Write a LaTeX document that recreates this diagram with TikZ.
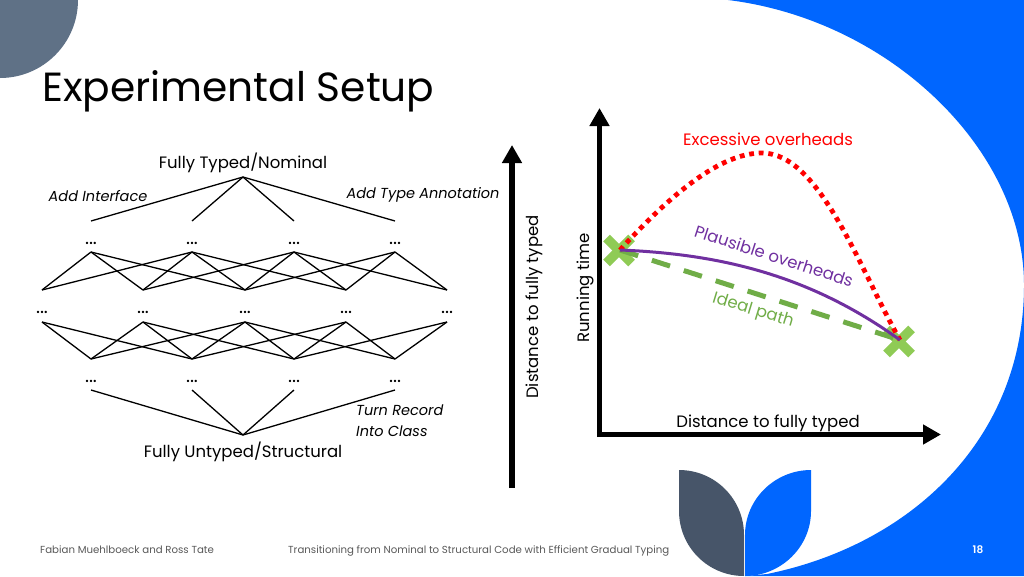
\documentclass[tikz,border=0pt]{standalone}
\usepackage{fontspec}
\setmainfont{Poppins}[BoldFont=* SemiBold]
\usetikzlibrary{arrows.meta}
\definecolor{brandblue}{HTML}{0066FF}
\definecolor{slate}{HTML}{5F7186}
\definecolor{darkleaf}{HTML}{475569}
\definecolor{xgreen}{HTML}{8FCB55}
\definecolor{idealgreen}{HTML}{70AD47}
\definecolor{purpleline}{HTML}{7030A0}
\definecolor{footgray}{HTML}{595959}
\newcommand{\fs}[1]{\fontsize{#1}{#1}\selectfont}
\tikzset{
  x=1pt,y=-1pt,
  lat/.style={draw=black,line width=1.3pt},
  dotsl/.style={inner sep=0pt,anchor=base,font=\fs{19}},
  lab/.style={inner sep=0pt,anchor=base,font=\fs{16.5}},
  anno/.style={inner sep=0pt,anchor=base,font=\fs{14.5}\itshape},
  foot/.style={inner sep=0pt,anchor=base west,font=\fs{10.2},text=footgray},
  axis/.style={draw=black,line width=5.5pt,-{Triangle[width=19pt,length=18pt]}},
  xmark/.style={draw=xgreen,line width=9.5pt},
}
\begin{document}
\begin{tikzpicture}
\useasboundingbox (0,0) rectangle (1024,576);
\fill[white] (0,0) rectangle (1024,576);
\begin{scope}
\clip (0,0) rectangle (1024,576);
\fill[brandblue] (728,0) .. controls (890,20) and (1024,150) .. (1024,285) .. controls (1024,440) and (910,545) .. (767,574) -- (745,576) -- (1024,576) -- (1024,0) -- cycle;
\fill[slate] (0,0) circle[radius=78];
\fill[darkleaf] (679,470) .. controls (715,470) and (744,499) .. (744,535) -- (744,576) .. controls (708,576) and (679,547) .. (679,511) -- cycle;
\fill[brandblue] (811,470) .. controls (775,470) and (745,499) .. (745,535) -- (745,576) .. controls (781,576) and (811,547) .. (811,511) -- cycle;
\end{scope}

\node[inner sep=0pt,anchor=base west,font=\fs{40.7}] (title) at (42,101.5) {Experimental Setup};

% lattice coordinates
\coordinate (T) at (243,177);
\coordinate (B) at (243,435);
\foreach \n/\x in {1/91,2/192,3/294,4/395}{
  \coordinate (u\n) at (\x,221);
  \coordinate (a\n) at (\x,252);
  \coordinate (d\n) at (\x,359);
  \coordinate (e\n) at (\x,390);
  \node[dotsl] (da\n) at (\x,244) {...};
  \node[dotsl] (de\n) at (\x,382) {...};
}
\foreach \n/\x in {1/42,2/143,3/245,4/346,5/447}{
  \coordinate (b\n) at (\x,290);
  \coordinate (c\n) at (\x,322);
  \node[dotsl] (dc\n) at (\x,313) {...};
}
\foreach \n in {1,2,3,4}{
  \draw[lat] (T) -- (u\n);
  \draw[lat] (B) -- (e\n);
}
\foreach \s/\t in {1/1,1/2,1/3,2/1,2/2,2/3,2/4,3/2,3/3,3/4,3/5,4/3,4/4,4/5}{
  \draw[lat] (a\s) -- (b\t);
}
\foreach \s/\t in {1/1,1/2,2/1,2/2,2/3,3/1,3/2,3/3,3/4,4/2,4/3,4/4,5/3,5/4}{
  \draw[lat] (c\s) -- (d\t);
}

\node[lab] (ftn) at (243,168) {Fully Typed/Nominal};
\node[lab] (fus) at (243,457) {Fully Untyped/Structural};
\node[anno] (ai) at (98,201) {Add Interface};
\node[anno] (ata) at (423,198) {Add Type Annotation};
\node[anno,anchor=base west] (tr) at (356,415.5) {Turn Record};
\node[anno,anchor=base west] (ic) at (356,436) {Into Class};

% distance arrow
\coordinate (da0) at (512,488);
\coordinate (da9) at (512,145);
\draw[axis,line width=6pt] (da0) -- (da9);
\node[lab,rotate=90] (dist) at (538,307) {Distance to fully typed};
\node[lab,rotate=90] (run) at (589,288) {Running time};

% plot axes
\coordinate (o) at (599.5,434.5);
\coordinate (ytip) at (599.5,108);
\coordinate (xtip) at (941,434.5);
\draw[axis] ([yshift=-2.7pt]o) -- (ytip);
\draw[axis] ([xshift=-2.7pt]o) -- (xtip);

% crosses
\coordinate (p) at (619,250.5);
\coordinate (q) at (899,341.5);
\foreach \c in {p,q}{
  \draw[xmark] ([shift={(-12.5,-12.5)}]\c) -- ([shift={(12.5,12.5)}]\c);
  \draw[xmark] ([shift={(-12.5,12.5)}]\c) -- ([shift={(12.5,-12.5)}]\c);
}
\coordinate (s) at (620,250);
\coordinate (f) at (900,340);
\coordinate (peak) at (762,153);
\draw[idealgreen,line width=5pt,dash pattern=on 19pt off 14.5pt] (s) -- (f);
\draw[red,line width=4.8pt,dash pattern=on 4.8pt off 4.8pt] (s) .. controls (670,195) and (720,153) .. (peak) .. controls (820,153) and (860,270) .. (f);
\draw[purpleline,line width=3pt] (s) .. controls (720,254) and (810,275) .. (f);

\node[lab,text=red] (exc) at (768,145) {Excessive overheads};
\node[lab,text=purpleline,anchor=center,rotate=-18] (pl) at (774,256) {Plausible overheads};
\node[lab,text=idealgreen,anchor=center,rotate=-17] (id) at (753,311) {Ideal path};
\node[lab] (dx) at (768,427) {Distance to fully typed};

% footer
\node[foot] (f1) at (40,553) {Fabian Muehlboeck and Ross Tate};
\node[foot] (f2) at (288,553) {Transitioning from Nominal to Structural Code with Efficient Gradual Typing};
\node[inner sep=0pt,anchor=base,font=\fs{10.5}\bfseries,text=white] (pg) at (978,553) {18};
\end{tikzpicture}
\end{document}
